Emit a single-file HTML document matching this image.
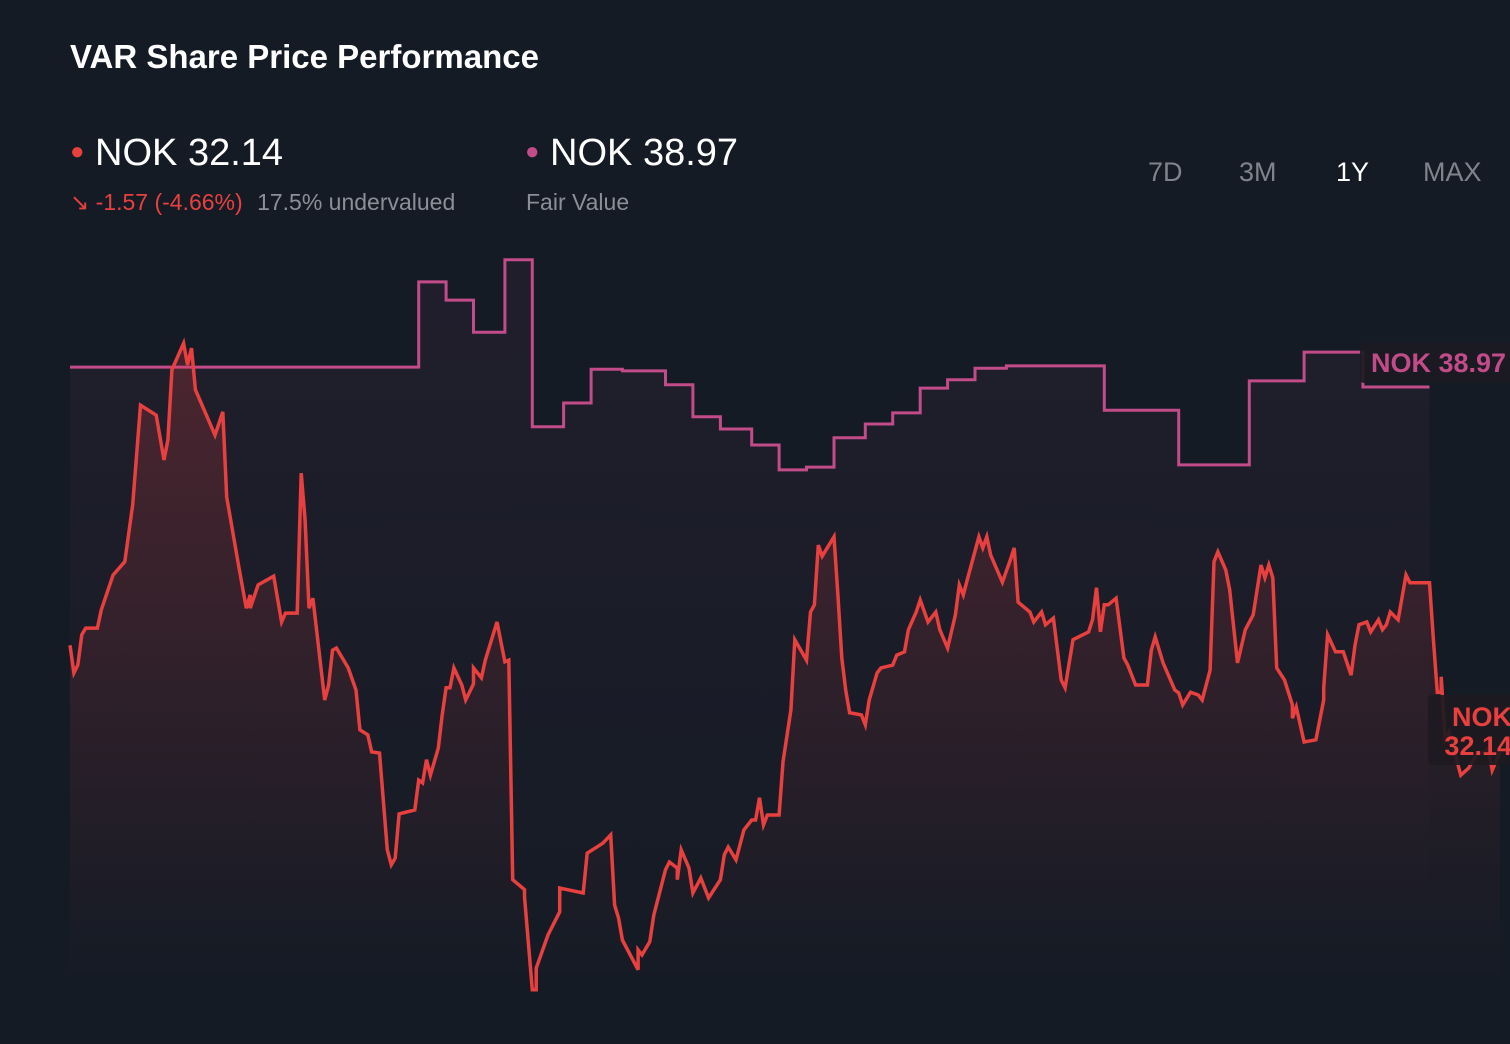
<!DOCTYPE html>
<html><head><meta charset="utf-8"><style>
html,body{margin:0;padding:0;background:#151b25;}
body{width:1510px;height:1044px;overflow:hidden;position:relative;font-family:"Liberation Sans",sans-serif;}
.t{position:absolute;white-space:nowrap;}
</style></head><body>
<div class="t" style="left:70px;top:38px;font-size:33px;font-weight:bold;color:#fff;">VAR Share Price Performance</div>
<div class="t" style="left:70px;top:132px;font-size:38px;color:#fff;"><span style="color:#e8403f;font-size:24px;vertical-align:6px;">●</span> NOK 32.14</div>
<div class="t" style="left:70px;top:189px;font-size:23px;color:#e8403f;">↘ -1.57 (-4.66%) <span style="color:#8b8f97;margin-left:8px;">17.5% undervalued</span></div>
<div class="t" style="left:525px;top:132px;font-size:38px;color:#fff;"><span style="color:#c24b8a;font-size:24px;vertical-align:6px;">●</span> NOK 38.97</div>
<div class="t" style="left:526px;top:189px;font-size:23px;color:#8b8f97;">Fair Value</div>
<div class="t" style="left:1148px;top:157px;font-size:27px;color:#7f848c;">7D</div>
<div class="t" style="left:1239px;top:157px;font-size:27px;color:#7f848c;">3M</div>
<div class="t" style="left:1336px;top:157px;font-size:27px;color:#fff;">1Y</div>
<div class="t" style="left:1423px;top:157px;font-size:27px;color:#7f848c;">MAX</div>
<svg id="chart" width="1510" height="1044" style="position:absolute;left:0;top:0;">
<defs>
<linearGradient id="redfill" gradientUnits="userSpaceOnUse" x1="0" y1="340" x2="0" y2="980"><stop offset="0" stop-color="#e8403f" stop-opacity="0.22"/><stop offset="1" stop-color="#e8403f" stop-opacity="0"/></linearGradient>
<linearGradient id="pinkfill" gradientUnits="userSpaceOnUse" x1="0" y1="260" x2="0" y2="940"><stop offset="0" stop-color="#c24b8a" stop-opacity="0.07"/><stop offset="1" stop-color="#c24b8a" stop-opacity="0"/></linearGradient>
</defs>
</svg>
<script>
const priceDays=[0,1,2,3,4,7,8,11,14,16,18,22,24,25,26,29,30,31,32,37,39,40,43,45,46,46,48,52,54,55,58,59,60,61,62,65,66,67,68,71,73,74,76,77,79,81,82,83,84,88,89,90,91,92,94,95,96,97,98,100,101,103,103,105,106,109,111,112,113,116,116,118,119,119,122,125,125,131,132,134,136,138,139,140,141,145,145,146,148,149,152,153,155,155,156,158,159,161,162,163,166,167,168,170,172,174,175,176,177,178,181,182,184,185,188,189,190,191,192,195,196,197,198,199,202,203,204,206,207,210,211,213,214,216,217,219,221,222,224,226,227,228,229,232,233,234,235,238,240,241,242,245,246,248,249,251,253,254,256,260,261,262,263,264,265,267,269,270,272,275,276,277,279,282,283,284,286,288,289,291,292,293,295,296,298,300,302,304,305,306,307,308,310,312,312,313,315,318,320,320,321,323,325,327,328,329,331,332,334,335,336,337,339,341,342,347,348,349,350,350,351,352,355,357,359,361,362,363,365];
const priceValues=[34.30,33.80,33.94,34.49,34.61,34.61,34.94,35.57,35.81,36.84,38.64,38.46,37.65,38.01,39.28,39.76,39.37,39.67,38.92,38.10,38.52,36.98,35.75,34.97,35.21,34.97,35.39,35.55,34.72,34.88,34.88,37.41,36.56,34.97,35.15,33.31,33.58,34.21,34.25,33.89,33.49,32.77,32.68,32.37,32.35,30.60,30.33,30.45,31.25,31.32,31.86,31.81,32.23,31.95,32.44,33.04,33.53,33.53,33.89,33.58,33.31,33.60,33.89,33.71,34.03,34.72,34.00,34.03,30.06,29.88,29.75,28.07,28.07,28.46,29.06,29.48,29.91,29.82,30.54,30.63,30.72,30.87,29.60,29.37,28.97,28.43,28.79,28.70,28.94,29.42,30.24,30.38,30.27,30.06,30.60,30.27,29.82,30.09,29.91,29.73,30.06,30.51,30.65,30.42,30.96,31.14,31.14,31.54,31.05,31.23,31.23,32.19,33.13,34.40,34.03,34.90,35.03,36.11,35.91,36.26,35.21,34.07,33.49,33.08,33.04,32.86,33.31,33.80,33.89,33.94,34.12,34.18,34.58,34.90,35.12,34.72,34.90,34.58,34.25,34.85,35.39,35.21,35.48,36.26,36.06,36.26,35.93,35.44,35.84,36.06,35.08,34.90,34.72,34.90,34.67,34.79,33.67,33.53,34.40,34.54,34.76,35.34,34.54,35.03,35.03,35.15,34.07,33.94,33.58,33.58,34.21,34.45,33.98,33.49,33.44,33.22,33.45,33.40,33.31,33.85,35.81,35.99,35.66,35.30,33.98,34.58,34.85,35.75,35.52,35.75,35.52,33.89,33.67,33.22,32.98,33.18,32.55,32.59,33.31,33.53,34.49,34.18,34.18,33.76,34.30,34.67,34.72,34.54,34.76,34.58,34.67,34.90,34.76,35.57,35.43,35.43,34.40,33.45,33.45,33.73,32.59,32.73,31.95,32.08,32.32,32.37,32.44,32.04,32.37];
const fairDays=[0,89,96,103,111,118,126,133,141,152,159,166,174,181,188,195,203,210,217,224,231,239,264,283,301,315,330,347];
const fairValues=[39.33,40.87,40.54,39.96,41.27,38.25,38.68,39.29,39.26,39.01,38.43,38.21,37.92,37.47,37.52,38.05,38.30,38.50,38.95,39.10,39.31,39.35,38.55,37.56,39.08,39.60,38.97,38.97];
const priceLabel=["NOK","32.14"];
const fairLabel="NOK 38.97";

const X0=70,XW=1430,DAYS=365;
function xs(d){return X0+d/DAYS*XW;}
function ys(v){return 330-(v-40)*55.3;}
const NS="http://www.w3.org/2000/svg";
const svg=document.getElementById('chart');
function mk(tag,attrs){const e=document.createElementNS(NS,tag);for(const k in attrs)e.setAttribute(k,attrs[k]);svg.appendChild(e);return e;}

let fp=[];
for(let i=0;i<fairDays.length;i++){
  const x=xs(fairDays[i]),y=ys(fairValues[i]);
  if(i>0)fp.push([x,ys(fairValues[i-1])]);
  fp.push([x,y]);
}
const fpStr=fp.map(p=>p[0].toFixed(1)+","+p[1].toFixed(1)).join(" ");
const ff=mk('polygon',{points:fpStr+" "+fp[fp.length-1][0]+",1000 "+X0+",1000",fill:"url(#pinkfill)"});


const fl=mk('polyline',{points:fpStr,fill:"none",stroke:"#c24b8a","stroke-width":3});



const pp=priceDays.map((d,i)=>[xs(d),ys(priceValues[i])]);
const ppStr=pp.map(p=>p[0].toFixed(1)+","+p[1].toFixed(1)).join(" ");
const pf=mk('polygon',{points:ppStr+" "+pp[pp.length-1][0]+",1000 "+X0+",1000",fill:"url(#redfill)"});


const pl=mk('polyline',{points:ppStr,fill:"none",stroke:"#e8403f","stroke-width":3.5,"stroke-linejoin":"miter"});



const fb=mk('rect',{x:1360,y:343,width:160,height:40,rx:4,fill:"#1c1a22","fill-opacity":0.92});


const ft=mk('text',{x:1371,y:372,"font-size":27,"font-weight":"bold",fill:"#c24b8a","font-family":"Liberation Sans, sans-serif"});
ft.textContent=fairLabel;



const pb=mk('rect',{x:1428,y:695,width:90,height:70,rx:4,fill:"#1d1a20","fill-opacity":0.92});


priceLabel.forEach((s,i)=>{
  const t=mk('text',{x:1512,y:726+i*29,"font-size":27,"font-weight":"bold",fill:"#e8403f","text-anchor":"end","font-family":"Liberation Sans, sans-serif"});
  t.textContent=s;
  
  
});
</script>
</body></html>
